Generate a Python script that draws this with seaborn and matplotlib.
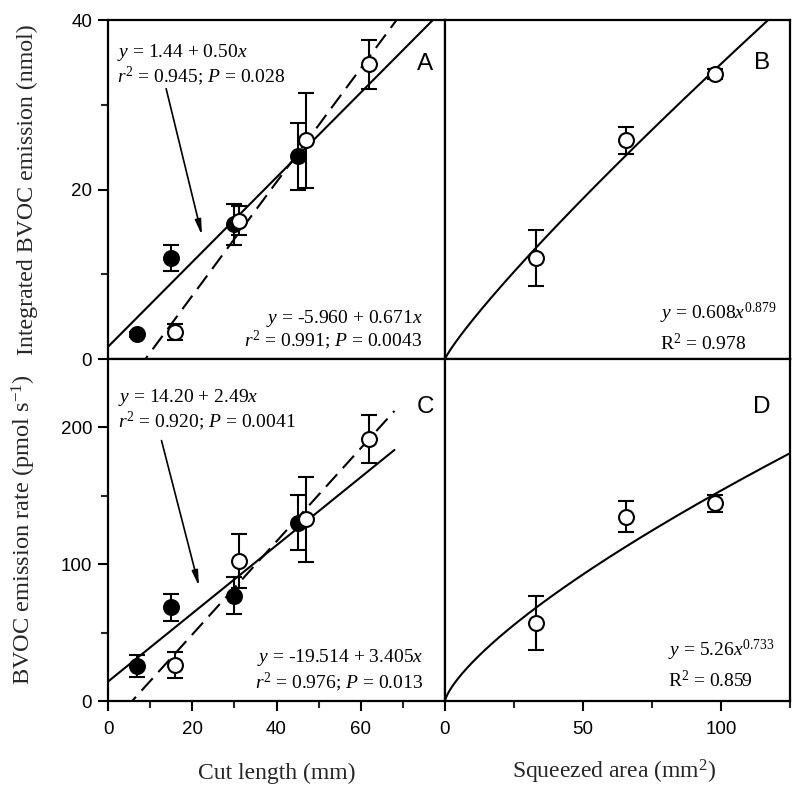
import numpy as np
import pandas as pd
import matplotlib
matplotlib.use('Agg')
import matplotlib.pyplot as plt
from matplotlib.ticker import FixedLocator
import seaborn as sns

# ---------------- data ----------------
# Panels A and C : cut length (mm)
cut_filled_x = [7, 15, 30, 45]
cut_open_x = [16, 31, 47, 62]
intA_filled = [2.9, 11.9, 15.9, 23.9]
intA_filled_err = [0.3, 1.5, 2.4, 3.9]
intA_open = [3.2, 16.3, 25.8, 34.8]
intA_open_err = [0.9, 1.7, 5.6, 2.9]
rateC_filled = [25.7, 68.5, 77.0, 130.4]
rateC_filled_err = [8.0, 9.8, 13.5, 20.0]
rateC_open = [26.4, 102.3, 132.9, 191.6]
rateC_open_err = [9.5, 20.0, 31.0, 17.7]

# Panels B and D : squeezed area (mm2)
sq_x = [33, 65.5, 98]
intB = [11.9, 25.8, 33.6]
intB_err = [3.3, 1.6, 0.6]
rateD = [57.0, 134.6, 144.4]
rateD_err = [19.7, 11.3, 6.4]

# fitted equations (as printed on the chart)
fitA_solid = (1.44, 0.50)
fitA_dash = (-5.960, 0.671)
fitC_solid = (14.20, 2.49)
fitC_dash = (-19.514, 3.405)
fitB_pow = (0.608, 0.879)
fitD_pow = (5.26, 0.733)

# ---------------- style ----------------
sns.set_style('ticks')
plt.rcParams['font.family'] = ['Liberation Sans', 'DejaVu Sans']
plt.rcParams['mathtext.fontset'] = 'custom'
plt.rcParams['mathtext.rm'] = 'Liberation Serif'
plt.rcParams['mathtext.it'] = 'Liberation Serif:italic'
plt.rcParams['mathtext.bf'] = 'Liberation Serif:bold'
SERIF = ['Liberation Serif', 'DejaVu Serif']

fig = plt.figure(figsize=(8, 7.98), dpi=100)
axA = fig.add_axes([0.135, 0.5501, 0.42125, 0.4248])
axB = fig.add_axes([0.55625, 0.5501, 0.43125, 0.4248])
axC = fig.add_axes([0.135, 0.12155, 0.42125, 0.42857])
axD = fig.add_axes([0.55625, 0.12155, 0.43125, 0.42857])

LW = 1.5
DASH = (0, (8, 4))


def style_axes(ax):
    for s in ax.spines.values():
        s.set_linewidth(1.6)
        s.set_color('black')
        s.set_visible(True)
    ax.tick_params(which='major', direction='out', length=7.5, width=1.5,
                   labelsize=13.5, colors='black')
    ax.tick_params(which='minor', direction='out', length=5, width=1.5)
    ax.tick_params(axis='x', which='major', pad=7)
    ax.tick_params(axis='y', which='major', pad=4)
    ax.set_facecolor('white')


def fit_line(ax, a, b, x0, x1, dashed=False):
    xs = np.linspace(x0, x1, 200)
    df = pd.DataFrame({'x': xs, 'y': a + b * xs})
    sns.lineplot(data=df, x='x', y='y', ax=ax, color='black', linewidth=LW,
                 linestyle=DASH if dashed else '-', estimator=None,
                 errorbar=None, zorder=2)


def pow_line(ax, a, b, x0, x1):
    xs = np.linspace(x0, x1, 400)
    df = pd.DataFrame({'x': xs, 'y': a * xs ** b})
    sns.lineplot(data=df, x='x', y='y', ax=ax, color='black', linewidth=LW,
                 estimator=None, errorbar=None, zorder=2)


def points(ax, x, y, err, filled):
    ax.errorbar(x, y, yerr=err, fmt='none', ecolor='black', elinewidth=LW,
                capsize=6, capthick=LW, zorder=3)
    df = pd.DataFrame({'x': x, 'y': y})
    sns.scatterplot(data=df, x='x', y='y', ax=ax, s=115,
                    color='black' if filled else 'white',
                    edgecolor='black', linewidth=1.5, zorder=5 if not filled else 4)


def eq_text(ax, x, y, s, ha='left'):
    ax.text(x, y, s, transform=ax.transAxes, ha=ha, va='center',
            fontsize=14, family=SERIF, color='black')


# ---------------- Panel A ----------------
fit_line(axA, *fitA_solid, 0, 80)
fit_line(axA, *fitA_dash, 0, 80, dashed=True)
points(axA, cut_filled_x, intA_filled, intA_filled_err, True)
points(axA, cut_open_x, intA_open, intA_open_err, False)
axA.set_xlim(0, 80)
axA.set_ylim(0, 40)
eq_text(axA, 0.027, 0.903, r'$y$ = 1.44 + 0.50$x$')
eq_text(axA, 0.027, 0.835, r'$r^2$ = 0.945; $P$ = 0.028')
eq_text(axA, 0.932, 0.121, r'$y$ = -5.960 + 0.671$x$', ha='right')
eq_text(axA, 0.932, 0.056, r'$r^2$ = 0.991; $P$ = 0.0043', ha='right')
axA.annotate('', xy=(22.3, 14.6), xytext=(13.8, 31.9),
             arrowprops=dict(arrowstyle='-|>,head_length=0.9,head_width=0.18',
                             color='black', lw=1.2, shrinkA=0, shrinkB=0))

# ---------------- Panel B ----------------
pow_line(axB, *fitB_pow, 0, 125)
points(axB, sq_x, intB, intB_err, False)
axB.set_xlim(0, 125)
axB.set_ylim(0, 40)
eq_text(axB, 0.623, 0.136, r'$y$ = 0.608$x^{0.879}$')
eq_text(axB, 0.623, 0.047, r'R$^2$ = 0.978')

# ---------------- Panel C ----------------
fit_line(axC, *fitC_solid, 0, 68)
fit_line(axC, *fitC_dash, 0, 68, dashed=True)
points(axC, cut_filled_x, rateC_filled, rateC_filled_err, True)
points(axC, cut_open_x, rateC_open, rateC_open_err, False)
axC.set_xlim(0, 80)
axC.set_ylim(0, 250)
eq_text(axC, 0.030, 0.886, r'$y$ = 14.20 + 2.49$x$')
eq_text(axC, 0.030, 0.817, r'$r^2$ = 0.920; $P$ = 0.0041')
eq_text(axC, 0.935, 0.126, r'$y$ = -19.514 + 3.405$x$', ha='right')
eq_text(axC, 0.935, 0.056, r'$r^2$ = 0.976; $P$ = 0.013', ha='right')
axC.annotate('', xy=(21.6, 83.9), xytext=(12.7, 190.4),
             arrowprops=dict(arrowstyle='-|>,head_length=0.9,head_width=0.18',
                             color='black', lw=1.2, shrinkA=0, shrinkB=0))

# ---------------- Panel D ----------------
pow_line(axD, *fitD_pow, 0, 125)
points(axD, sq_x, rateD, rateD_err, False)
axD.set_xlim(0, 125)
axD.set_ylim(0, 250)
eq_text(axD, 0.646, 0.149, r'$y$ = 5.26$x^{0.733}$')
eq_text(axD, 0.646, 0.061, r'R$^2$ = 0.859')

# ---------------- axes formatting ----------------
for ax, letter, ypos in [(axA, 'A', 0.870), (axB, 'B', 0.873),
                         (axC, 'C', 0.861), (axD, 'D', 0.861)]:
    style_axes(ax)
    ax.set_xlabel('')
    ax.set_ylabel('')
    xl = 0.941 if ax in (axA, axC) else 0.918
    ax.text(xl, ypos, letter, transform=ax.transAxes, ha='center',
            va='center', fontsize=17.5, color='black')

axA.yaxis.set_major_locator(FixedLocator([0, 20, 40]))
axA.yaxis.set_minor_locator(FixedLocator([10, 30]))
axC.yaxis.set_major_locator(FixedLocator([0, 100, 200]))
axC.yaxis.set_minor_locator(FixedLocator([50, 150]))
axC.xaxis.set_major_locator(FixedLocator([0, 20, 40, 60]))
axC.xaxis.set_minor_locator(FixedLocator([10, 30, 50, 70]))
axD.xaxis.set_major_locator(FixedLocator([0, 50, 100]))
axD.xaxis.set_minor_locator(FixedLocator([25, 75, 125]))

for ax in (axA, axB):
    ax.tick_params(axis='x', which='both', bottom=False, labelbottom=False)
for ax in (axB, axD):
    ax.tick_params(axis='y', which='both', left=False, labelleft=False)

axA.set_ylabel('Integrated BVOC emission (nmol)', family=SERIF, fontsize=17.2)
axC.set_ylabel('BVOC emission rate (pmol s$^{-1}$)', family=SERIF,
               fontsize=17.6)
axA.yaxis.set_label_coords(-0.208, 0.5)
axC.yaxis.set_label_coords(-0.208, 0.5)

# x labels placed on a common baseline
axC.text(0.5, -0.228, 'Cut length (mm)', transform=axC.transAxes,
         ha='center', va='baseline', family=SERIF, fontsize=17)
axD.text(0.49, -0.228, 'Squeezed area (mm$^2$)', transform=axD.transAxes,
         ha='center', va='baseline', family=SERIF, fontsize=17)

fig.savefig('out.png', dpi=100, facecolor='white')
